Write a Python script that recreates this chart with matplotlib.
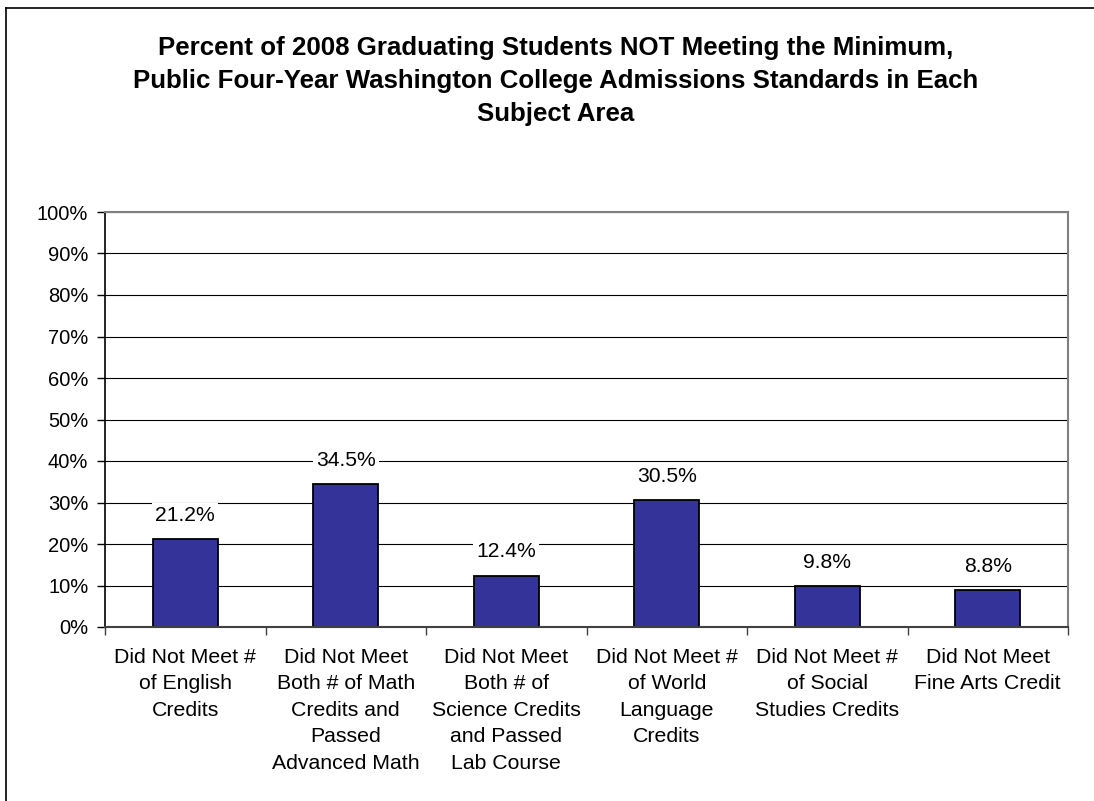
import matplotlib
matplotlib.use("Agg")
import matplotlib.pyplot as plt
from matplotlib.lines import Line2D
import numpy as np

# ─── Data ────────────────────────────────────────────────────────────────────

categories = [
    "Did Not Meet #\nof English\nCredits",
    "Did Not Meet\nBoth # of Math\nCredits and\nPassed\nAdvanced Math",
    "Did Not Meet\nBoth # of\nScience Credits\nand Passed\nLab Course",
    "Did Not Meet #\nof World\nLanguage\nCredits",
    "Did Not Meet #\nof Social\nStudies Credits",
    "Did Not Meet\nFine Arts Credit",
]
values = [21.2, 34.5, 12.4, 30.5, 9.8, 8.8]
y_ticks = list(range(0, 101, 10))
title = ("Percent of 2008 Graduating Students NOT Meeting the Minimum,\n"
         "Public Four-Year Washington College Admissions Standards in Each\n"
         "Subject Area")

# ─── Figure ──────────────────────────────────────────────────────────────────

W, H = 1094, 801
plt.rcParams["font.family"] = ["Liberation Sans", "DejaVu Sans"]

fig = plt.figure(figsize=(W / 100, H / 100), dpi=100)
ax = fig.add_axes([105 / W, (H - 627) / H, (1068 - 105) / W, (627 - 212) / H])

x = np.arange(len(categories))
ax.bar(x, values, width=0.405, color="#333399", edgecolor="black",
       linewidth=1.3, zorder=3)

for xi, v in zip(x, values):
    ax.annotate(f"{v:.1f}%", (xi, v), xytext=(0, 17), textcoords="offset points",
                ha="center", va="center", fontsize=15.2,
                bbox=dict(boxstyle="square,pad=0.15", fc="white", ec="none"),
                zorder=4)

ax.set_xlim(-0.5, len(categories) - 0.5)
ax.set_ylim(0, 100)
ax.set_yticks(y_ticks)
ax.set_yticklabels([f"{t}%" for t in y_ticks], fontsize=14.5)
ax.grid(True, axis="y", color="black", linewidth=0.8, zorder=1)

# category labels sit between the boundary ticks
ax.set_xticks(x)
ax.set_xticklabels(categories, fontsize=15.3, linespacing=1.5)
ax.tick_params(axis="x", length=0, pad=15)
ax.set_xticks(np.arange(len(categories) + 1) - 0.5, minor=True)
ax.tick_params(axis="x", which="minor", length=6, width=1, color="#404040")
ax.tick_params(axis="y", length=6, width=1, pad=6)

ax.spines["left"].set_color("black")
ax.spines["left"].set_linewidth(1.2)
ax.spines["bottom"].set_color("#404040")
ax.spines["bottom"].set_linewidth(1.5)
ax.spines["bottom"].set_zorder(5)
ax.spines["top"].set_color("#808080")
ax.spines["top"].set_linewidth(1.5)
ax.spines["right"].set_color("#808080")
ax.spines["right"].set_linewidth(1.5)

fig.text(556 / W, 1 - 81 / H, title, ha="center", va="center",
         fontsize=18.6, fontweight="bold", linespacing=1.48)

# outer chart frame (top and left edges visible)
fig.add_artist(Line2D([6 / W, 6 / W], [0, 1 - 8 / H], color="black",
                      linewidth=1.2, transform=fig.transFigure))
fig.add_artist(Line2D([6 / W, 1], [1 - 8 / H, 1 - 8 / H], color="black",
                      linewidth=1.2, transform=fig.transFigure))

fig.savefig("out.png", dpi=100)
